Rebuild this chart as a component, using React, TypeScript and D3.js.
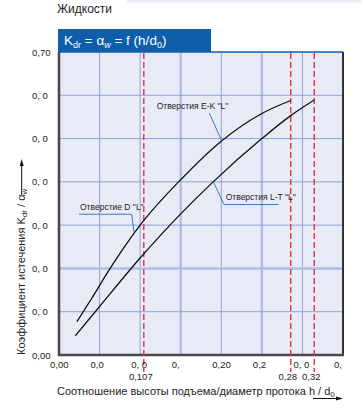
import React from 'react';
import * as d3 from 'd3';

const xTickValues = [0, 0.05, 0.1, 0.15, 0.2, 0.25, 0.3, 0.35];
const xTickLabels = ['0,00', '0,0', '0, 0', '0,', '0,20', '0,2', '0, 0', '0,'];
const yTickValues = [0, 0.1, 0.2, 0.3, 0.4, 0.5, 0.6, 0.7];
const yTickLabels = ['0,00', '0, 0', '0, 0', '0, 0', '0, 0', '0, 0', '0, 0', '0,70'];
const markerPositions = [0.1045, 0.2856, 0.3146];
const markerLabels = ['0,107', '0,28', '0,32'];

const upperX = [0.022, 0.04, 0.063, 0.1, 0.15, 0.2, 0.25, 0.2856];
const upperY = [0.077, 0.13, 0.2, 0.3, 0.405, 0.494, 0.558, 0.588];
const lowerX = [0.02, 0.05, 0.1, 0.15, 0.19, 0.25, 0.2856, 0.3146];
const lowerY = [0.044, 0.112, 0.224, 0.326, 0.4, 0.5, 0.553, 0.589];

const annotationTexts = ['Отверстия E-K "L"', 'Отверстие D "L"', 'Отверстия L-T "L"'];
const annotationX = [0.2005, 0.0928, 0.1902];
const annotationY = [0.495, 0.279, 0.4003];

const W = 361, H = 414;
const L = 59, R = 343, T = 52, B = 355;
const FONT = '"Liberation Sans", Arial, sans-serif';

export default function App() {
  const x = d3.scaleLinear().domain([0, 0.35]).range([L, R]);
  const y = d3.scaleLinear().domain([0, 0.7]).range([B, T]);
  const line = d3.line<[number, number]>().x(d => x(d[0])).y(d => y(d[1])).curve(d3.curveMonotoneX);
  const upper = line(upperX.map((v, i) => [v, upperY[i]]))!;
  const lower = line(lowerX.map((v, i) => [v, lowerY[i]]))!;

  const thickX = [0.15, 0.25];
  const thickY = [0.2];

  const ann = annotationTexts.map((t, i) => ({ t, px: x(annotationX[i]), py: y(annotationY[i]) }));

  return (
    <svg width={W} height={H} style={{ position: 'absolute', left: 0, top: 0, fontFamily: FONT }}>
      <rect x={0} y={0} width={W} height={H} fill="#fff" />
      <rect x={127} y={0} width={234} height={2.5} fill="#eceef6" />
      <text x={57} y={13} fontSize={12} fill="#222">Жидкости</text>

      {/* plot background */}
      <rect x={L} y={T} width={R - L} height={B - T} fill="#e8eaf6" />

      {/* grid */}
      {xTickValues.slice(1, -1).map(v => {
        const thick = thickX.includes(v);
        return (
          <line key={'gx' + v} x1={x(v)} x2={x(v)} y1={T} y2={B}
            stroke={thick ? '#b1bde6' : '#8ea3d8'} strokeWidth={thick ? 2.4 : 1} />
        );
      })}
      {yTickValues.slice(1, -1).map(v => {
        const thick = thickY.includes(v);
        return (
          <line key={'gy' + v} x1={L} x2={R} y1={y(v)} y2={y(v)}
            stroke={thick ? '#b1bde6' : '#8ea3d8'} strokeWidth={thick ? 2.4 : 1} />
        );
      })}

      {/* borders */}
      <line x1={L} x2={R} y1={T} y2={T} stroke="#4d7fc4" strokeWidth={2} />
      <line x1={R} x2={R} y1={T} y2={B + 1} stroke="#333" strokeWidth={2} />
      <line x1={L - 1} x2={R + 1} y1={B} y2={B} stroke="#4a4a4a" strokeWidth={2.6} />
      <line x1={L} x2={L} y1={T} y2={B + 1} stroke="#4a4a4a" strokeWidth={2.6} />

      {/* header */}
      <rect x={58} y={29} width={153} height={23} fill="#0f5ea9" />
      <text x={64} y={45} fontSize={13.5} fill="#fff">
        <tspan>K</tspan>
        <tspan fontSize={9} dy={3}>dr</tspan>
        <tspan dy={-3}> = α</tspan>
        <tspan fontSize={9} dy={3} fontStyle="italic">w</tspan>
        <tspan dy={-3}> = f (h/d</tspan>
        <tspan fontSize={9} dy={3}>0</tspan>
        <tspan dy={-3}>)</tspan>
      </text>

      {/* red markers */}
      {markerPositions.map((v, i) => (
        <g key={'m' + i}>
          <line x1={x(v)} x2={x(v)} y1={T + 1} y2={372} stroke="#e8323a" strokeWidth={1.4} strokeDasharray="6,3" />
          <text x={x(v) - 3} y={380} fontSize={9.5} textAnchor="middle" fill="#222">{markerLabels[i]}</text>
        </g>
      ))}

      {/* curves */}
      <path d={upper} fill="none" stroke="#111" strokeWidth={1.3} />
      <path d={lower} fill="none" stroke="#111" strokeWidth={1.3} />

      {/* annotations */}
      <g fontSize={8.5} fill="#222">
        <text x={ann[0].px - 65} y={ann[0].py - 31.6}>{ann[0].t}</text>
        <polyline points={`${ann[0].px - 12.4},${ann[0].py - 27.6} ${ann[0].px},${ann[0].py}`} fill="none" stroke="#1f6fc0" strokeWidth={0.9} />

        <text x={ann[1].px - 54.3} y={ann[1].py - 24}>{ann[1].t}</text>
        <polyline points={`${ann[1].px - 55.3},${ann[1].py - 20} ${ann[1].px - 2.6},${ann[1].py - 20} ${ann[1].px},${ann[1].py}`} fill="none" stroke="#1f6fc0" strokeWidth={0.9} />

        <text x={ann[2].px + 12.4} y={ann[2].py + 18.3}>{ann[2].t}</text>
        <polyline points={`${ann[2].px},${ann[2].py} ${ann[2].px + 10.7},${ann[2].py + 22.8} ${ann[2].px + 65},${ann[2].py + 22.8}`} fill="none" stroke="#1f6fc0" strokeWidth={0.9} />
      </g>

      {/* y tick labels */}
      {yTickValues.map((v, i) => (
        <text key={'yl' + v} x={32} y={y(v) + 3.5} fontSize={9.5} fill="#222">{yTickLabels[i]}</text>
      ))}
      {/* x tick labels */}
      {xTickValues.map((v, i) => (
        <text key={'xl' + v} x={x(v) - 9} y={368} fontSize={9.5} fill="#222">{xTickLabels[i]}</text>
      ))}

      {/* x axis title */}
      <text x={57} y={395} fontSize={11} fill="#222">
        <tspan>Соотношение высоты подъема/диаметр протока h / d</tspan>
        <tspan fontSize={8} dy={2}>0</tspan>
      </text>
      <line x1={313} x2={340} y1={398.5} y2={398.5} stroke="#111" strokeWidth={1} />
      <path d="M343,398.5 L336,396.5 L336,400.5 Z" fill="#111" />

      {/* y axis title */}
      <text transform="translate(25,355) rotate(-90)" fontSize={11} fill="#222">
        <tspan>Коэффициент истечения K</tspan>
        <tspan fontSize={8} dy={2}>dr</tspan>
        <tspan dy={-2}> / α</tspan>
        <tspan fontSize={8} dy={2}>w</tspan>
      </text>
      <line x1={21.7} x2={21.7} y1={195} y2={163} stroke="#111" strokeWidth={1} />
      <path d="M21.7,159 L19.7,166 L23.7,166 Z" fill="#111" />
    </svg>
  );
}
